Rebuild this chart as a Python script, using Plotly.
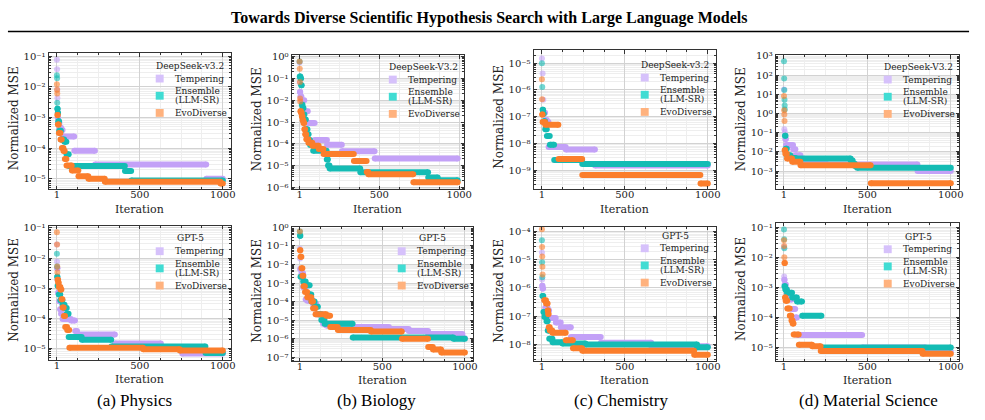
import plotly.graph_objects as go
import math

W, H = 985, 420

# ---------------- data: best-so-far normalized MSE as steps (start_iter, end_iter, value) -------------
SERIES_NAMES = ["Tempering", "Ensemble (LLM-SR)", "EvoDiverse"]
MODELS = ["DeepSeek-v3.2", "DeepSeek-V3.2", "DeepSeek-v3.2", "DeepSeek-V3.2", "GPT-5", "GPT-5", "GPT-5", "GPT-5"]
CAPTIONS = ["(a) Physics", "(b) Biology", "(c) Chemistry", "(d) Material Science"]
X_TICKS = [1, 500, 1000]

PHYS_DS_TEMP = [(1,1,7.6e-2),(2,2,3.7e-2),(3,3,8e-3),(4,4,4.3e-3),(5,5,1.8e-3),(6,8,1.0e-3),(9,16,6.6e-4),
                (17,26,4.6e-4),(27,35,3.9e-4),(36,105,2.4e-4),(106,230,8.1e-5),(231,900,2.9e-5),(901,1000,1.0e-5)]
PHYS_DS_ENS = [(1,1,2.4e-2),(2,2,1.9e-2),(3,3,3e-3),(4,5,1.9e-3),(6,8,1.4e-3),(9,14,7.5e-4),(15,25,3.7e-4),
               (26,45,1.9e-4),(46,58,1.6e-4),(59,72,6.3e-5),(73,410,2.6e-5),(411,448,1.8e-5),(449,1000,8.8e-6)]
PHYS_DS_EVO = [(1,1,1.2e-2),(2,2,8e-3),(3,3,6e-3),(4,6,1.2e-3),(7,12,5.9e-4),(13,22,3.1e-4),(23,30,1.9e-4),
               (31,40,1e-4),(41,48,8e-5),(49,58,4.4e-5),(59,90,2.7e-5),(91,130,1.85e-5),(131,190,1.2e-5),
               (191,289,1e-5),(290,985,8e-6),(986,1000,7e-6)]

BIO_DS_TEMP = [(1,1,0.55),(2,2,6.5e-2),(3,5,2.4e-2),(6,12,1.5e-2),(13,30,1.0e-2),(31,52,3.1e-3),(53,95,9e-4),
               (96,172,1.5e-4),(173,265,8.9e-5),(266,470,4.5e-5),(471,990,2.1e-5)]
BIO_DS_ENS = [(1,1,0.6),(2,6,0.125),(7,10,0.1),(11,14,4.9e-2),(15,19,6.2e-3),(20,25,4.4e-3),(26,31,2.2e-3),
              (32,40,1.3e-3),(41,50,4.6e-4),(51,57,2.7e-4),(58,66,1.5e-4),(67,85,8.7e-5),(86,170,4.8e-5),
              (171,178,1.9e-5),(179,188,1e-5),(189,380,7.2e-6),(381,805,4.9e-6),(806,865,2.8e-6),(866,990,2.1e-6)]
BIO_DS_EVO = [(1,1,0.6),(2,2,0.28),(3,3,6.9e-2),(4,4,1.2e-2),(5,5,8.7e-3),(6,10,3.1e-3),(11,14,2.6e-3),
              (15,19,1.8e-3),(20,24,1.2e-3),(25,30,9e-4),(31,35,4.6e-4),(36,42,2.7e-4),(43,55,1.6e-4),
              (56,80,1.1e-4),(81,120,8e-5),(121,150,5.7e-5),(151,340,3.4e-5),(341,420,1.6e-5),(421,430,5e-6),
              (431,712,4e-6),(713,990,1.7e-6)]

CHEM_DS_TEMP = [(1,1,1.5e-5),(5,5,4.1e-6),(9,9,4.3e-7),(15,20,1.4e-7),(21,30,7.5e-8),(31,40,6.3e-8),
                (41,144,7.3e-9),(145,320,5.9e-9),(321,1000,1.5e-9)]
CHEM_DS_ENS = [(1,1,1e-5),(3,3,1.3e-6),(5,8,1.8e-7),(9,12,1.3e-7),(13,20,6.8e-8),(21,30,3.4e-8),(31,48,1.9e-8),
               (49,74,8.9e-9),(75,243,2.4e-9),(244,1000,1.7e-9)]
CHEM_DS_EVO = [(1,1,2.5e-6),(2,2,4.5e-7),(3,4,1.2e-7),(5,20,6.3e-8),(21,100,5e-8),(101,243,2.6e-9),
               (244,955,6.6e-10),(956,1000,3.2e-10)]

MAT_DS_TEMP = [(1,1,18),(3,3,0.15),(6,6,0.11),(9,12,4.7e-2),(13,55,2.3e-2),(56,69,1.35e-2),(70,99,6.6e-3),
               (100,119,4.4e-3),(120,249,3e-3),(250,800,2.2e-3),(801,1000,1e-3)]
MAT_DS_ENS = [(1,1,530),(2,2,66),(3,3,17),(4,4,5.2),(5,5,2.6),(6,6,1.6),(7,10,6.9e-2),(11,18,1.45e-2),
              (19,39,6.6e-3),(40,69,4.8e-3),(70,400,4.5e-3),(401,412,3.5e-3),(413,425,2.4e-3),(426,438,1.8e-3),
              (439,1000,1.5e-3)]
MAT_DS_EVO = [(1,1,8.3),(2,2,1.5),(3,3,0.9),(4,4,0.41),(5,8,1.2e-2),(9,18,8e-3),(19,49,4.5e-3),(50,99,3e-3),
              (100,520,2e-3),(521,1000,2.3e-4)]

PHYS_GPT_TEMP = [(1,1,2.8e-2),(2,2,7.6e-3),(3,4,4.6e-3),(5,7,1.9e-3),(8,14,7.1e-4),(15,19,3.7e-4),(20,25,2e-4),
                 (26,34,1.4e-4),(35,85,9.5e-5),(86,110,8.4e-5),(111,122,3.8e-5),(123,350,2.9e-5),
                 (351,627,1.45e-5),(628,755,1.0e-5),(756,1000,6.8e-6)]
PHYS_GPT_ENS = [(1,1,1.4e-2),(2,2,5.2e-3),(3,4,2.4e-3),(5,11,1.2e-3),(12,21,6.2e-4),(22,34,4e-4),(35,47,2.8e-4),
                (48,60,2.2e-4),(61,71,1.4e-4),(72,150,2.4e-5),(151,328,1.95e-5),(329,895,1.15e-5),(896,1000,7e-6)]
PHYS_GPT_EVO = [(1,1,7.2e-2),(2,2,2.8e-2),(3,3,5.2e-3),(4,4,3.4e-3),(5,8,1.9e-3),(9,12,1.5e-3),(13,22,1.1e-3),
                (23,28,9e-4),(29,34,4.3e-4),(35,42,2.3e-4),(43,50,1.2e-4),(51,62,5.1e-5),(63,75,4.1e-5),
                (76,520,1.05e-5),(521,740,9.3e-6),(741,1000,8.5e-6)]

BIO_GPT_TEMP = [(1,1,7e-2),(2,2,2.1e-2),(3,10,5.8e-3),(11,20,3.4e-3),(21,35,5.9e-4),(36,45,1.3e-4),(46,80,1.1e-4),
                (81,100,7.3e-5),(101,140,2.1e-5),(141,160,6.3e-6),(161,320,5.1e-6),(321,540,4.2e-6),
                (541,660,3.3e-6),(661,777,2.6e-6),(778,985,1.8e-6),(986,1000,1.05e-6)]
BIO_GPT_ENS = [(1,1,0.6),(2,4,0.36),(5,20,2.2e-3),(21,36,1.2e-3),(37,60,7.6e-4),(61,70,2.4e-4),(71,90,1e-4),
               (91,110,5.2e-5),(111,130,2.1e-5),(131,150,1e-5),(151,320,6.3e-6),(321,930,1.15e-6),(931,1000,1e-6)]
BIO_GPT_EVO = [(1,1,0.6),(2,4,5.8e-2),(5,10,2.6e-2),(11,16,6.2e-3),(17,22,2.5e-3),(23,31,6.7e-4),(32,45,3.3e-4),
               (46,70,1.7e-4),(71,80,1e-4),(81,95,4.4e-5),(96,160,2.1e-5),(161,184,1.7e-5),(185,230,4.2e-6),
               (231,430,2.9e-6),(431,618,2.4e-6),(619,777,1e-6),(778,806,3.6e-7),(807,856,2.6e-7),(857,1000,1.8e-7)]

CHEM_GPT_TEMP = [(1,1,1.8e-5),(2,2,2e-6),(3,4,1.2e-6),(5,8,9.6e-7),(21,35,2e-7),(36,44,1.6e-7),(45,84,8.7e-8),
                 (85,114,6e-8),(115,175,4.1e-8),(176,355,1.85e-8),(356,659,1.15e-8),(660,1000,8.7e-9)]
CHEM_GPT_ENS = [(1,1,4.9e-5),(2,2,8.1e-6),(3,3,2.4e-6),(4,9,5.2e-7),(10,15,1.4e-7),(16,28,9.3e-8),(29,35,6.6e-8),
                (36,44,3.1e-8),(45,64,1.6e-8),(65,124,1.2e-8),(125,263,1.07e-8),(264,935,1.0e-8),(936,1000,7.9e-9)]
CHEM_GPT_EVO = [(1,1,1.2e-4),(2,2,2.8e-5),(3,3,1.3e-5),(4,4,5.7e-6),(5,5,3e-6),(15,25,3.7e-7),(26,35,2.8e-7),
                (36,38,1.6e-7),(39,41,1.2e-7),(42,48,4.1e-8),(49,63,3.1e-8),(64,144,2.6e-8),(145,187,1.4e-8),
                (188,243,7.3e-9),(244,917,6e-9),(918,1000,4.3e-9)]

MAT_GPT_TEMP = [(1,1,2.2e-2),(2,2,2.3e-3),(3,4,1.8e-3),(5,12,1.25e-3),(13,18,8.6e-4),(19,24,5.9e-4),(25,48,4e-4),
                (49,68,1.9e-4),(69,79,1e-4),(80,469,2.6e-5),(470,848,1e-5),(849,1000,7.3e-6)]
MAT_GPT_ENS = [(1,1,8.4e-2),(2,2,4e-2),(3,3,2e-2),(4,8,1.1e-3),(9,18,8.6e-4),(19,49,6.7e-4),(50,78,4.6e-4),
               (79,109,3.4e-4),(110,225,1.15e-4),(226,1000,1e-5)]
MAT_GPT_EVO = [(1,1,3.7e-2),(2,2,2.4e-2),(3,3,1e-2),(4,6,6.5e-3),(7,10,4.6e-4),(11,20,3.6e-4),(21,35,2e-4),
               (36,45,1.15e-4),(46,52,8e-5),(53,58,6.3e-5),(59,89,2.7e-5),(90,169,1.25e-5),(170,220,1.1e-5),
               (221,830,7.7e-6),(831,1000,6.2e-6)]

PANEL_DATA = [
    (PHYS_DS_TEMP, PHYS_DS_ENS, PHYS_DS_EVO),
    (BIO_DS_TEMP, BIO_DS_ENS, BIO_DS_EVO),
    (CHEM_DS_TEMP, CHEM_DS_ENS, CHEM_DS_EVO),
    (MAT_DS_TEMP, MAT_DS_ENS, MAT_DS_EVO),
    (PHYS_GPT_TEMP, PHYS_GPT_ENS, PHYS_GPT_EVO),
    (BIO_GPT_TEMP, BIO_GPT_ENS, BIO_GPT_EVO),
    (CHEM_GPT_TEMP, CHEM_GPT_ENS, CHEM_GPT_EVO),
    (MAT_GPT_TEMP, MAT_GPT_ENS, MAT_GPT_EVO),
]

# ---------------- layout / style (pixels) ----------------
# plot-area boxes: left, right, top, bottom
BOXES = [(49, 233, 49, 188), (294, 468, 51, 188), (538, 722, 46, 188), (782, 967, 51, 188),
         (49, 233, 225, 362), (294, 477, 226, 363), (538, 722, 226, 363), (782, 967, 222, 363)]
X_RANGES = [(-49, 1050), (-49, 1031), (-49, 1050), (-49, 1050),
            (-49, 1050), (-49, 1050), (-49, 1050), (-49, 1050)]
Y_RANGES = [(-5.35, -0.9), (-6.1, 0.08), (-9.72, -4.51), (-3.96, 3.05),
            (-5.39, -0.925), (-7.21, 0.04), (-8.59, -3.83), (-5.45, -0.85)]
LEGEND_TITLE_Y = [62, 63, 61, 63, 238, 238, 235, 236]
CAPTION_X = [136, 380, 626, 876]

COLORS = ["#c3a1f7", "#14bcb4", "#fb7e2c"]
LEGEND_COLORS = ["#d6c1fb", "#40dcd3", "#ffb27e"]
SERIF = "DejaVu Serif"
TIMES = "Liberation Serif"
TXT = "#222222"

SUPERSCRIPT = str.maketrans("-0123456789", "\u207b\u2070\u00b9\u00b2\u00b3\u2074\u2075\u2076\u2077\u2078\u2079")


def X(px):
    return px / W


def Y(py):
    return 1 - py / H


def sup(k):
    return "10" + str(k).translate(SUPERSCRIPT)


fig = go.Figure()
annotations = []
shapes = []

for i, (series3, box, xr, yr) in enumerate(zip(PANEL_DATA, BOXES, X_RANGES, Y_RANGES)):
    n = "" if i == 0 else str(i + 1)
    L, R, T, B = box
    for steps, color, name in zip(series3, COLORS, SERIES_NAMES):
        xs, ys, ops = [], [], []
        for s, e, v in steps:
            if s == e:
                xs += [s, None]
                ys += [v, None]
                ops += [0.6, 0.6]
            else:
                xs += [s, e, None]
                ys += [v, v, None]
                ops += [1, 1, 1]
        fig.add_trace(go.Scatter(
            x=xs, y=ys, mode="lines+markers", name=name, showlegend=False,
            line=dict(color=color, width=6),
            marker=dict(color=color, size=6, opacity=ops, line=dict(width=0)),
            xaxis="x" + n, yaxis="y" + n, hoverinfo="skip"))

    kmin, kmax = math.ceil(yr[0] - 1e-9), math.floor(yr[1] + 1e-9)
    major = [10.0 ** k for k in range(kmin, kmax + 1)]
    minor = [m * 10.0 ** k for k in range(math.floor(yr[0]) - 1, math.ceil(yr[1]) + 1)
             for m in range(2, 10) if yr[0] <= math.log10(m * 10.0 ** k) <= yr[1]]
    x_minor = [1 + 124.75 * j for j in (1, 2, 3, 5, 6, 7)]

    common = dict(showline=True, linecolor="#333333", linewidth=1, mirror="allticks",
                  ticks="inside", ticklen=3.5, tickwidth=0.8, tickcolor="#333333",
                  showgrid=True, gridcolor="#d2d2d2", gridwidth=0.8, zeroline=False,
                  tickfont=dict(family=SERIF, size=10, color=TXT))
    fig.layout["xaxis" + n] = dict(
        domain=[X(L), X(R)], anchor="y" + n, range=list(xr),
        tickmode="array", tickvals=X_TICKS, ticktext=[str(t) for t in X_TICKS],
        ticklabelstandoff=-4,
        minor=dict(tickmode="array", tickvals=x_minor, ticks="inside", ticklen=2, tickcolor="#333333",
                   showgrid=True, gridcolor="#eeeeee", gridwidth=0.5),
        **common)
    fig.layout["yaxis" + n] = dict(
        domain=[Y(B), Y(T)], anchor="x" + n, type="log", range=list(yr),
        tickmode="array", tickvals=major, ticktext=[sup(k) for k in range(kmin, kmax + 1)],
        minor=dict(tickmode="array", tickvals=minor, ticks="inside", ticklen=2, tickcolor="#333333",
                   showgrid=True, gridcolor="#eeeeee", gridwidth=0.5),
        **common)

    # axis titles
    annotations.append(dict(text="Normalized MSE", x=X(L - 35), y=Y((T + B) / 2 - 3), xref="paper", yref="paper",
                            textangle=-90, showarrow=False, xanchor="center", yanchor="middle",
                            font=dict(family=SERIF, size=12, color=TXT)))
    annotations.append(dict(text="Iteration", x=X((L + R) / 2), y=Y(B + 20), xref="paper", yref="paper",
                            showarrow=False, xanchor="center", yanchor="middle",
                            font=dict(family=SERIF, size=11, color=TXT)))

    # legend (drawn as text + square swatches)
    ty = LEGEND_TITLE_Y[i]
    annotations.append(dict(text=MODELS[i], x=X(R - 41), y=Y(ty), xref="paper", yref="paper",
                            showarrow=False, xanchor="center", yanchor="middle",
                            font=dict(family=SERIF, size=9, color=TXT)))
    rows = [(["Tempering"], 13), (["Ensemble", "(LLM-SR)"], 30.5), (["EvoDiverse"], 48)]
    for (lines, dy), lc in zip(rows, LEGEND_COLORS):
        cy = ty + dy
        shapes.append(dict(type="rect", xref="paper", yref="paper",
                           x0=X(R - 76), x1=X(R - 68), y0=Y(cy - 4), y1=Y(cy + 4),
                           fillcolor=lc, line=dict(width=0)))
        for j, ln in enumerate(lines):
            ly = cy + (j - (len(lines) - 1) / 2) * 9.5
            annotations.append(dict(text=ln, x=X(R - 59), y=Y(ly), xref="paper", yref="paper",
                                    showarrow=False, xanchor="left", yanchor="middle",
                                    font=dict(family=SERIF, size=9, color=TXT)))

for cx, cap in zip(CAPTION_X, CAPTIONS):
    annotations.append(dict(text=cap, x=X(cx), y=Y(403), xref="paper", yref="paper", showarrow=False,
                            xanchor="center", yanchor="middle", font=dict(family=TIMES, size=17, color="black")))

annotations.append(dict(text="<b>Towards Diverse Scientific Hypothesis Search with Large Language Models</b>",
                        x=0.5, y=Y(13), xref="paper", yref="paper", showarrow=False,
                        xanchor="center", yanchor="middle", font=dict(family=TIMES, size=16, color="black")))
shapes.append(dict(type="line", xref="paper", yref="paper", x0=X(8), x1=X(977), y0=Y(27), y1=Y(27),
                   line=dict(color="black", width=1.6)))

fig.update_layout(width=W, height=H, autosize=False, margin=dict(l=0, r=0, t=0, b=0),
                  paper_bgcolor="white", plot_bgcolor="white", showlegend=False,
                  annotations=annotations, shapes=shapes)

fig.write_html("out.html")
